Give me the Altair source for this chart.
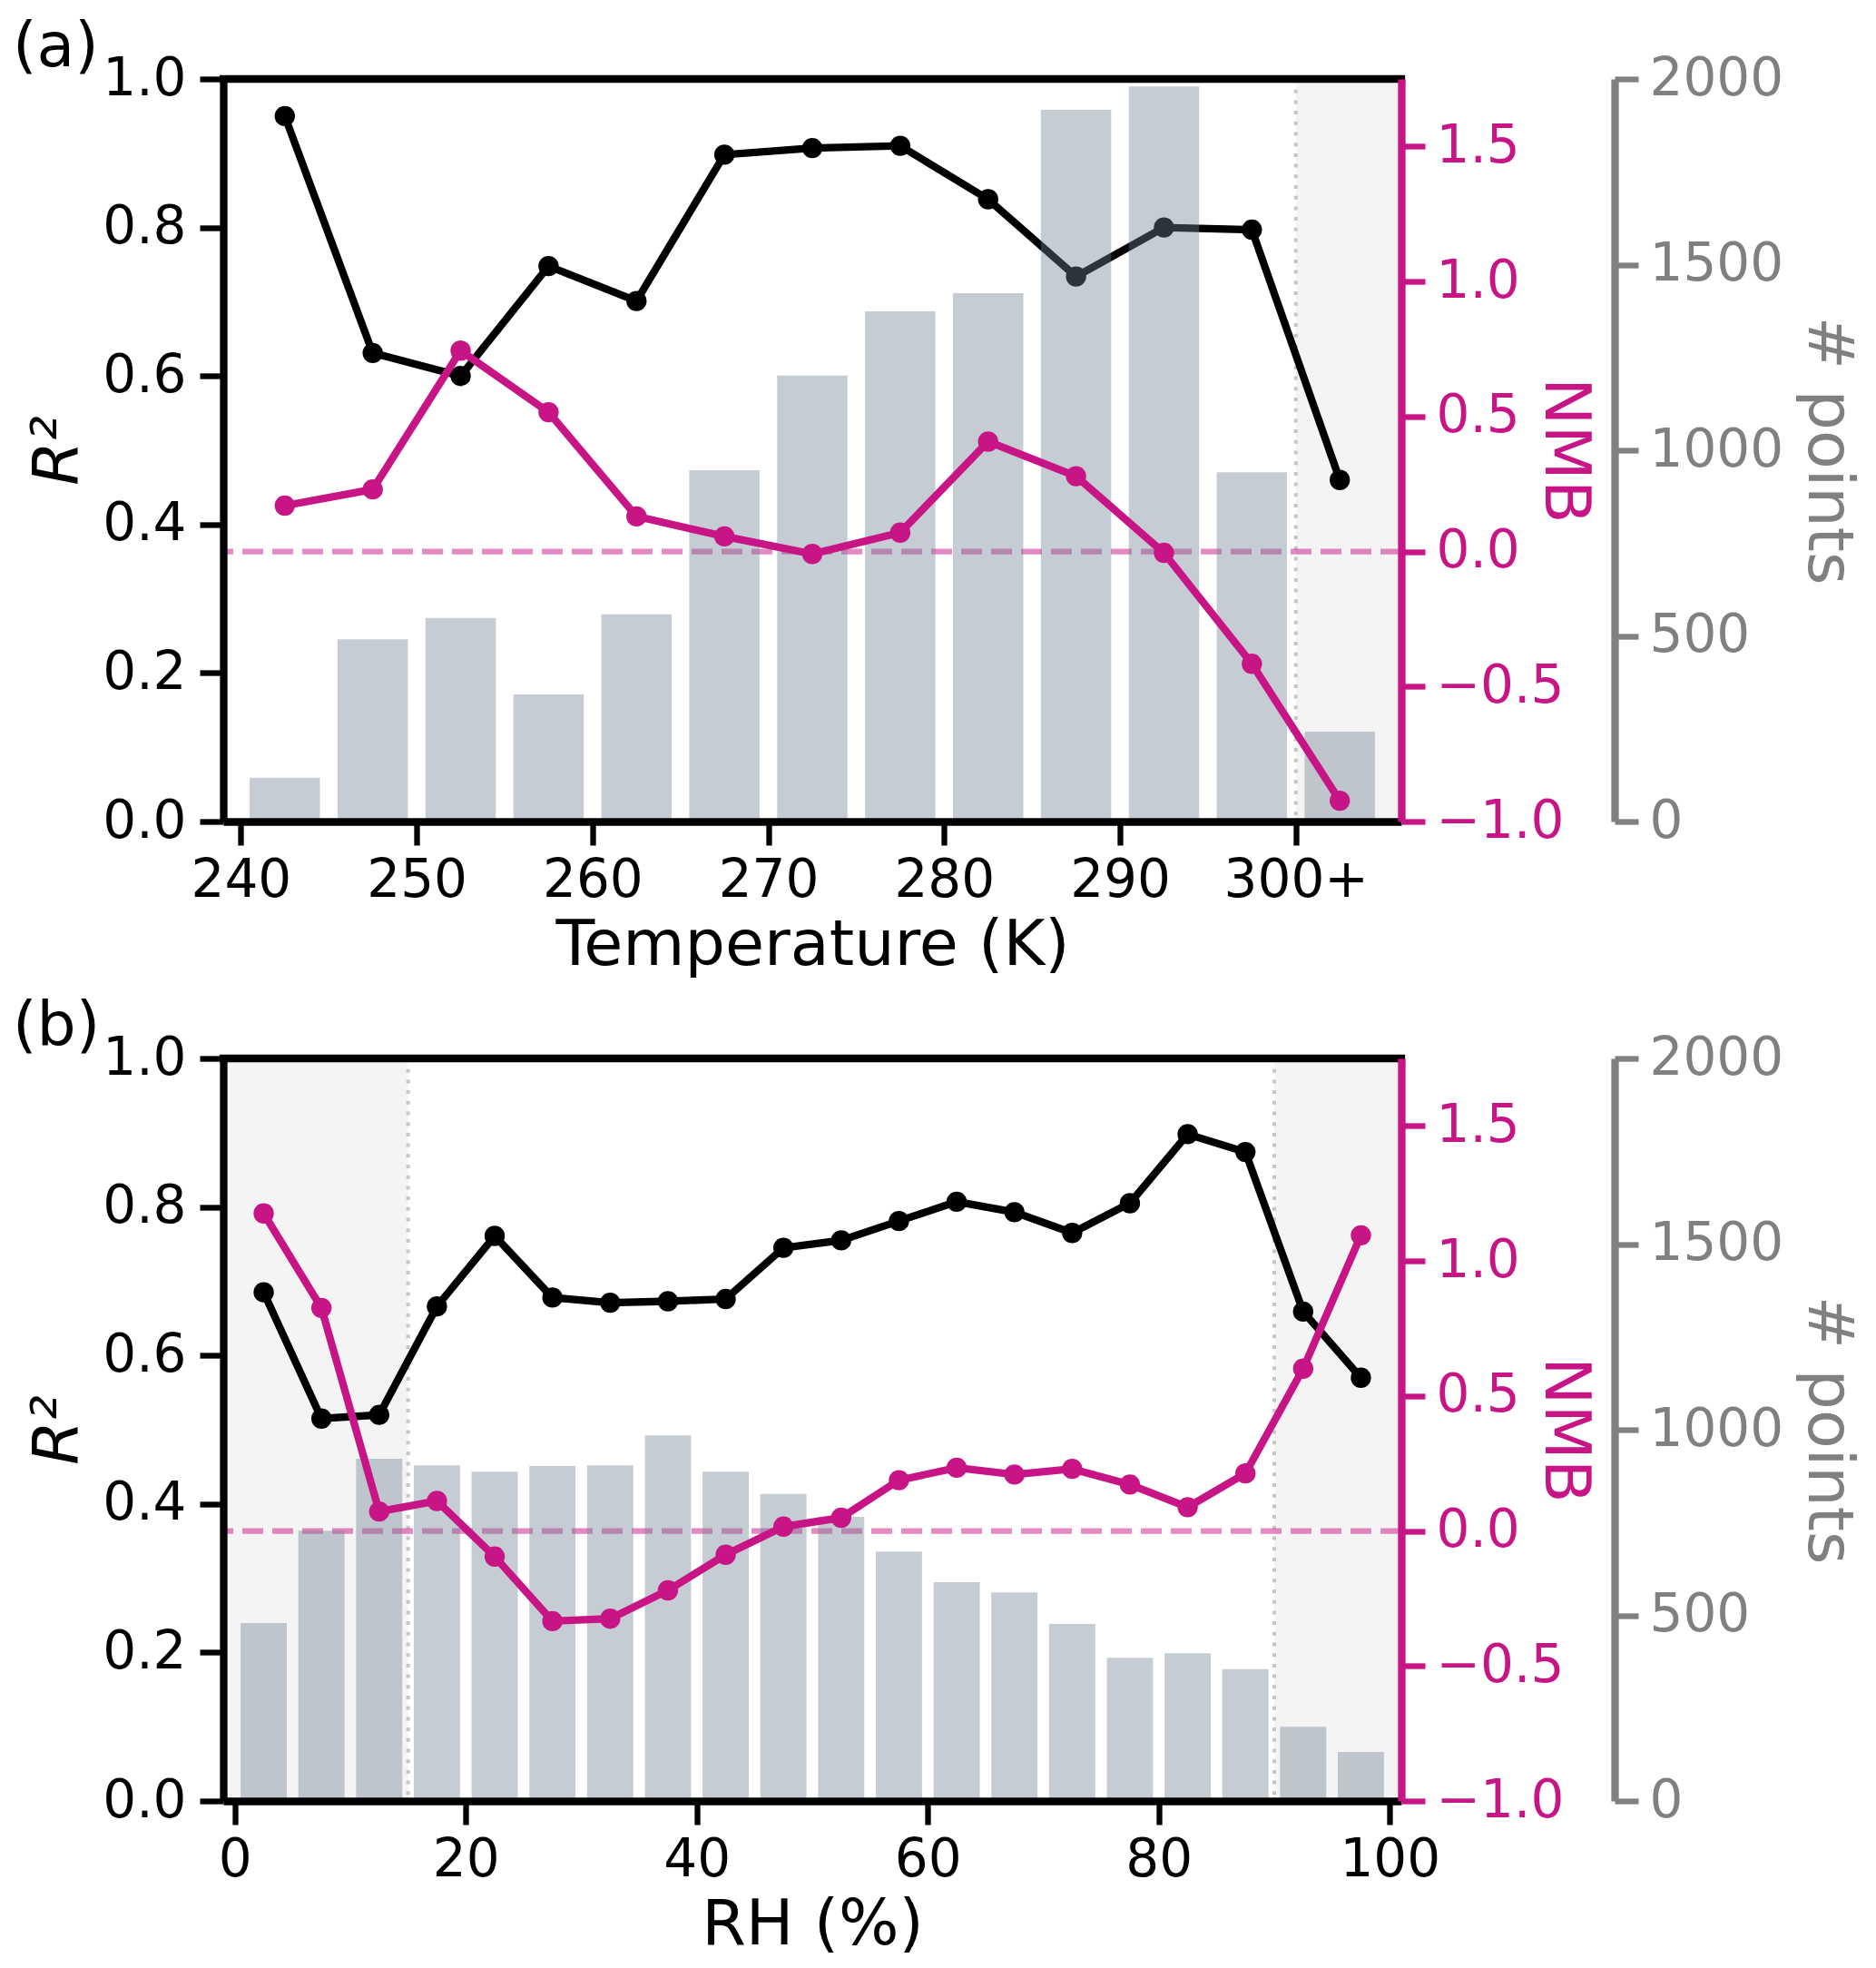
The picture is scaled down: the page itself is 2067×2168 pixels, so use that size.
import pandas as pd
import altair as alt

# (a) temperature bins (K); the last bin is "300+"
temp_bin = [242.5, 247.5, 252.5, 257.5, 262.5, 267.5, 272.5, 277.5, 282.5, 287.5, 292.5, 297.5, 302.5]
temp_r2 = [0.950, 0.631, 0.600, 0.748, 0.701, 0.898, 0.907, 0.910, 0.838, 0.734, 0.800, 0.797, 0.460]
temp_nmb = [0.170, 0.230, 0.744, 0.516, 0.130, 0.056, -0.009, 0.070, 0.407, 0.279, -0.005, -0.416, -0.923]
temp_n = [118, 491, 548, 342, 558, 946, 1201, 1374, 1423, 1917, 1980, 941, 242]
temp_ticks = [240, 250, 260, 270, 280, 290, 300]

# (b) relative humidity bins (%)
rh_bin = [2.5, 7.5, 12.5, 17.5, 22.5, 27.5, 32.5, 37.5, 42.5, 47.5,
          52.5, 57.5, 62.5, 67.5, 72.5, 77.5, 82.5, 87.5, 92.5, 97.5]
rh_r2 = [0.685, 0.515, 0.520, 0.666, 0.761, 0.678, 0.671, 0.673, 0.676, 0.745,
         0.755, 0.781, 0.807, 0.793, 0.765, 0.805, 0.898, 0.874, 0.659, 0.570]
rh_nmb = [1.176, 0.826, 0.072, 0.111, -0.095, -0.334, -0.325, -0.220, -0.088, 0.016,
          0.049, 0.188, 0.234, 0.209, 0.230, 0.172, 0.088, 0.213, 0.601, 1.095]
rh_n = [479, 728, 922, 904, 887, 902, 904, 985, 887, 827,
        765, 672, 589, 562, 477, 386, 398, 355, 200, 132]
rh_ticks = [0, 20, 40, 60, 80, 100]

MAGENTA = "#c71585"
FONT = "DejaVu Sans"
W, H = 1298, 818
LW = 8.3


def panel(bins, r2, nmb, n, xdom, ticks, xtitle, tag, spans, lines, label_expr=None):
    df = pd.DataFrame({"bin": bins, "r2": r2, "nmb": nmb, "n": n})
    span_df = pd.DataFrame({"start": [s[0] for s in spans], "end": [s[1] for s in spans]})
    line_df = pd.DataFrame({"pos": lines})

    ax_kw = dict(values=ticks, title=xtitle, labelPadding=10, titlePadding=8, zindex=1)
    if label_expr:
        ax_kw["labelExpr"] = label_expr
    x_axis = alt.Axis(**ax_kw)
    xs = alt.Scale(domain=xdom, nice=False, zero=False)

    def X(field):
        return alt.X(field, type="quantitative", scale=xs, axis=x_axis)

    r2_scale = alt.Scale(domain=[0, 1], nice=False)
    nmb_scale = alt.Scale(domain=[-1, 1.75], nice=False, zero=False)
    n_scale = alt.Scale(domain=[0, 2000], nice=False)

    shade = alt.Chart(span_df).mark_rect(color="#f4f4f4").encode(x=X("start"), x2="end")
    dotted = alt.Chart(line_df).mark_rule(
        color="#c6c6c6", strokeWidth=4, strokeDash=[4, 7.7]
    ).encode(x=X("pos"))

    r2_axis = alt.Axis(orient="left", values=[0, 0.2, 0.4, 0.6, 0.8, 1.0], format=".1f",
                       title="R²", titleFontStyle="italic", labelPadding=15, zindex=1,
                       titleX=-183, titleY=H / 2, titleAngle=270,
                       titleBaseline="middle", titleAlign="center")
    r2_base = alt.Chart(df).encode(x=X("bin"), y=alt.Y("r2:Q", scale=r2_scale, axis=r2_axis))
    r2_layer = alt.layer(
        r2_base.mark_line(color="black", strokeWidth=LW),
        r2_base.mark_circle(color="black", size=500, opacity=1),
    )

    zero_df = pd.DataFrame({"z": [0.0]})
    zero = alt.Chart(zero_df).mark_rule(
        color=MAGENTA, opacity=0.5, strokeWidth=6.2, strokeDash=[23, 10]
    ).encode(y=alt.Y("z:Q", scale=nmb_scale, axis=None))

    n_axis = alt.Axis(orient="right", offset=235, values=[0, 500, 1000, 1500, 2000], format="d",
                      title="# points", domainColor="gray", tickColor="gray",
                      labelColor="gray", titleColor="gray", labelPadding=12, zindex=1,
                      titleX=234, titleY=H / 2, titleAngle=90,
                      titleBaseline="middle", titleAlign="center")
    bars = alt.Chart(df).transform_calculate(
        lo="datum.bin - 2", hi="datum.bin + 2"
    ).mark_rect(color="#708090", opacity=0.4).encode(
        x=X("lo:Q"), x2="hi:Q",
        y=alt.Y("n:Q", scale=n_scale, axis=n_axis),
        y2=alt.datum(0),
    )

    nmb_axis = alt.Axis(orient="right", values=[-1, -0.5, 0, 0.5, 1, 1.5], format=".1f",
                        title="NMB", domainColor=MAGENTA, tickColor=MAGENTA,
                        labelColor=MAGENTA, titleColor=MAGENTA, labelPadding=12, zindex=1,
                        titleX=179, titleY=H / 2, titleAngle=90,
                        titleBaseline="middle", titleAlign="center")
    nmb_base = alt.Chart(df).encode(x=X("bin"), y=alt.Y("nmb:Q", scale=nmb_scale, axis=nmb_axis))
    nmb_layer = alt.layer(
        nmb_base.mark_line(color=MAGENTA, strokeWidth=LW),
        nmb_base.mark_circle(color=MAGENTA, size=500, opacity=1),
    )

    top_spine = alt.Chart(zero_df).mark_rule(
        color="black", strokeWidth=LW, strokeCap="square"
    ).encode(x=alt.value(0), x2=alt.value(W), y=alt.value(0))

    tag_df = pd.DataFrame({"t": [tag]})
    label = alt.Chart(tag_df).mark_text(
        align="left", baseline="alphabetic", fontSize=68, font=FONT, color="black"
    ).encode(x=alt.value(-232), y=alt.value(-14), text="t:N")

    return alt.layer(
        shade, dotted, r2_layer, zero, bars, nmb_layer, top_spine, label
    ).resolve_scale(y="independent").properties(width=W, height=H)


top = panel(temp_bin, temp_r2, temp_nmb, temp_n, [239, 306], temp_ticks, "Temperature (K)", "(a)",
            [(300, 306)], [300], "datum.value == 300 ? '300+' : datum.label")
bottom = panel(rh_bin, rh_r2, rh_nmb, rh_n, [-1, 101], rh_ticks, "RH (%)", "(b)",
               [(-1, 15), (90, 101)], [15, 90])

chart = alt.vconcat(top, bottom, spacing=22).properties(
    padding={"left": 6, "top": 11, "right": 5, "bottom": 5}
).configure_view(
    stroke=None
).configure_axis(
    grid=False, domainWidth=LW, tickWidth=6.3, tickSize=26,
    labelFontSize=58, titleFontSize=70, labelFont=FONT, titleFont=FONT,
    titleFontWeight="normal", domainColor="black", tickColor="black",
    labelColor="black", titleColor="black",
)

chart.save("out.html", embed_options={"renderer": "svg", "actions": False})
